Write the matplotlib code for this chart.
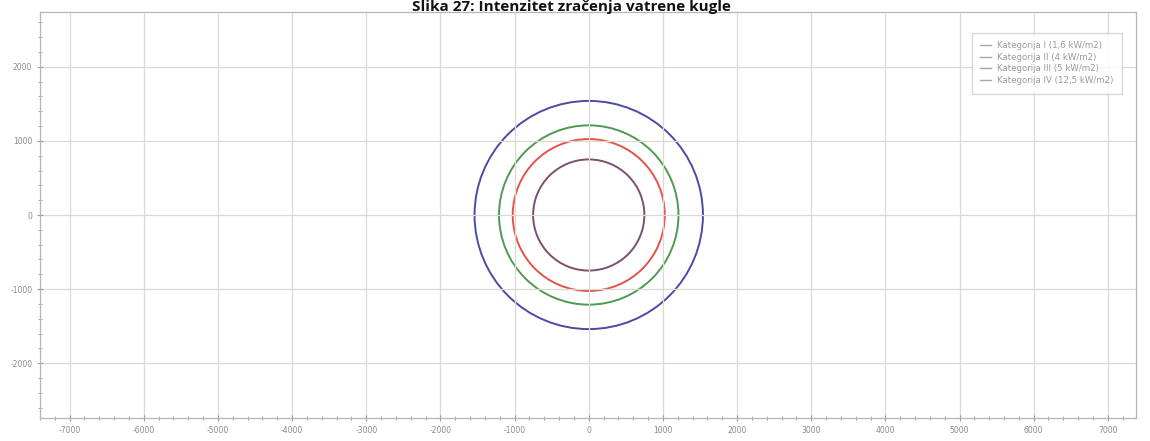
import matplotlib
matplotlib.use("Agg")
import matplotlib.pyplot as plt
from matplotlib.patches import Circle
from matplotlib.ticker import MultipleLocator

title = "Slika 27: Intenzitet zračenja vatrene kugle"
labels = ["Kategorija I (1,6 kW/m2)", "Kategorija II (4 kW/m2)",
          "Kategorija III (5 kW/m2)", "Kategorija IV (12,5 kW/m2)"]
radii = [1540, 1210, 1025, 750]
colors = ["#4b4ba6", "#4f9a52", "#e2534b", "#7c4f6e"]
x_ticks = list(range(-7000, 7001, 1000))
y_ticks = list(range(-2000, 2001, 1000))

plt.rcParams["axes.unicode_minus"] = False

fig = plt.figure(figsize=(11.5, 4.41), dpi=100)
ax = fig.add_axes([40/1150, 1-418/441, 1096/1150, 406/441])
ax.set_xlim(-7400, 7380)
ax.set_ylim(-2740, 2740)

for r, c, lab in zip(radii, colors, labels):
    ax.add_patch(Circle((0, 0), r, fill=False, edgecolor=c, lw=1.4))
    ax.plot([], [], color="#a8a8a8", lw=1.0, label=lab)

ax.set_xticks(x_ticks)
ax.set_yticks(y_ticks)
ax.xaxis.set_minor_locator(MultipleLocator(200))
ax.yaxis.set_minor_locator(MultipleLocator(200))
ax.grid(True, which="major", color="#dadad0", lw=0.9)
ax.tick_params(which="both", direction="inout", colors="#999999", labelcolor="#8a8a8a",
               labelsize=5.5)
ax.tick_params(which="major", length=4)
ax.tick_params(which="minor", length=2.5)
for s in ax.spines.values():
    s.set_color("#b5b5b5")
    s.set_linewidth(0.9)

leg = ax.legend(loc="upper right", fontsize=6.2, frameon=True,
                fancybox=False, edgecolor="#cccccc", labelcolor="#9a9a9a",
                handlelength=1.2, borderpad=1.0, labelspacing=0.3,
                bbox_to_anchor=(0.9915, 0.96))

fig.text(0.497, 1.0, title, ha="center", va="top", fontsize=11,
         fontweight="bold", family="Open Sans", color="#111111")

fig.savefig("out.png", dpi=100)
